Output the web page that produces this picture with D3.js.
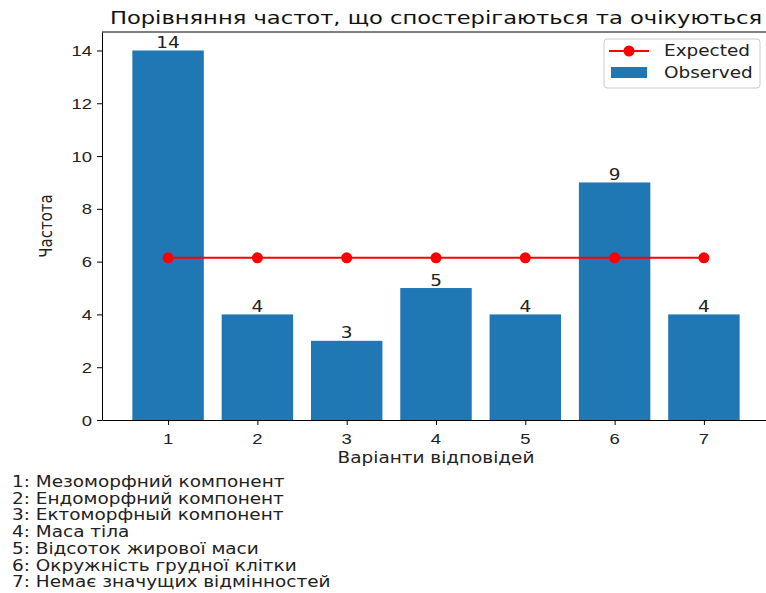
<!DOCTYPE html>
<meta charset="utf-8">
<style>
body { margin: 0; background: #fff; }
svg { font-family: "DejaVu Sans", sans-serif; }
.tick line, .domain { stroke: #000; }
</style>
<svg width="766" height="593"></svg>
<script src="https://d3js.org/d3.v7.min.js"></script>
<script>

var categories = [1, 2, 3, 4, 5, 6, 7];
var observed = [14, 4, 3, 5, 4, 9, 4];
var expected = [43/7, 43/7, 43/7, 43/7, 43/7, 43/7, 43/7];
var yTicks = [0, 2, 4, 6, 8, 10, 12, 14];
var notes = [
  "1: Мезоморфний компонент",
  "2: Ендоморфний компонент",
  "3: Ектоморфный компонент",
  "4: Маса тіла",
  "5: Відсоток жирової маси",
  "6: Окружність грудної клітки",
  "7: Немає значущих відмінностей"
];

var svg = d3.select("svg");
var mLeft = 102, mRight = 770, mTop = 32, mBottom = 420;
var sx = 1.23; // the text in the picture is a bit wide

var x = d3.scaleLinear().domain([0.26, 7.74]).range([mLeft, mRight]);
var y = d3.scaleLinear().domain([0, 14.7]).range([mBottom, mTop]);
var bw = x(1.8) - x(1);

// text helper: place at (px,py), stretched sideways
function label(g, px, py, txt, size, anchor, rot) {
  return g.append("text")
    .attr("transform", "translate(" + px + "," + py + ") scale(" + sx + ",1)" + (rot ? " rotate(" + rot + ")" : ""))
    .attr("text-anchor", anchor || "start")
    .attr("font-size", size)
    .attr("fill", "#222")
    .text(txt);
}

// bars
svg.append("g").selectAll("rect")
  .data(observed)
  .enter().append("rect")
    .attr("x", function(d, i) { return x(categories[i]) - bw / 2; })
    .attr("y", function(d) { return y(d); })
    .attr("width", bw)
    .attr("height", function(d) { return y(0) - y(d); })
    .attr("fill", "#1f77b4");

// bar labels
var bl = svg.append("g");
observed.forEach(function(d, i) {
  label(bl, x(categories[i]), y(d) - 2.5, d, 15, "middle");
});

// expected line
var line = d3.line()
  .x(function(d, i) { return x(categories[i]); })
  .y(function(d) { return y(d); });

svg.append("path")
  .datum(expected)
  .attr("d", line)
  .attr("fill", "none")
  .attr("stroke", "red")
  .attr("stroke-width", 2);

svg.append("g").selectAll("circle")
  .data(expected)
  .enter().append("circle")
    .attr("cx", function(d, i) { return x(categories[i]); })
    .attr("cy", function(d) { return y(d); })
    .attr("r", 5.5)
    .attr("fill", "red");

// axes
var xAxis = svg.append("g")
  .attr("transform", "translate(0," + mBottom + ")")
  .call(d3.axisBottom(x).tickValues(categories).tickSize(5).tickSizeOuter(0).tickFormat(""));
categories.forEach(function(c) { label(xAxis, x(c), 23.5, c, 15, "middle"); });

var yAxis = svg.append("g")
  .attr("transform", "translate(" + mLeft + ",0)")
  .call(d3.axisLeft(y).tickValues(yTicks).tickSize(5).tickSizeOuter(0).tickFormat(""));
yTicks.forEach(function(t) { label(yAxis, -10, y(t) + 5.5, t, 15, "end"); });

// top frame
svg.append("line")
  .attr("x1", mLeft).attr("x2", mRight)
  .attr("y1", mTop).attr("y2", mTop)
  .attr("stroke", "#000");

// title & axis labels
label(svg, 436, 24, "Порівняння частот, що спостерігаються та очікуються", 18.4, "middle").attr("fill", "#111");
label(svg, 436, 463, "Варіанти відповідей", 15, "middle");
label(svg, 52, (mTop + mBottom) / 2, "Частота", 15, "middle", -90);

// legend
var lg = svg.append("g").attr("transform", "translate(604,39)");
lg.append("rect")
  .attr("width", 156).attr("height", 49)
  .attr("rx", 3)
  .attr("fill", "#fff")
  .attr("stroke", "#ccc");
lg.append("line")
  .attr("x1", 5).attr("x2", 45).attr("y1", 12).attr("y2", 12)
  .attr("stroke", "red").attr("stroke-width", 2);
lg.append("circle").attr("cx", 25).attr("cy", 12).attr("r", 5.5).attr("fill", "red");
label(lg, 60, 17, "Expected", 15);
lg.append("rect").attr("x", 7).attr("y", 28).attr("width", 36).attr("height", 11).attr("fill", "#1f77b4");
label(lg, 60, 39, "Observed", 15);

// notes
var ng = svg.append("g");
notes.forEach(function(n, i) {
  label(ng, 12, 487 + i * 16.7, n, 15);
});

</script>
